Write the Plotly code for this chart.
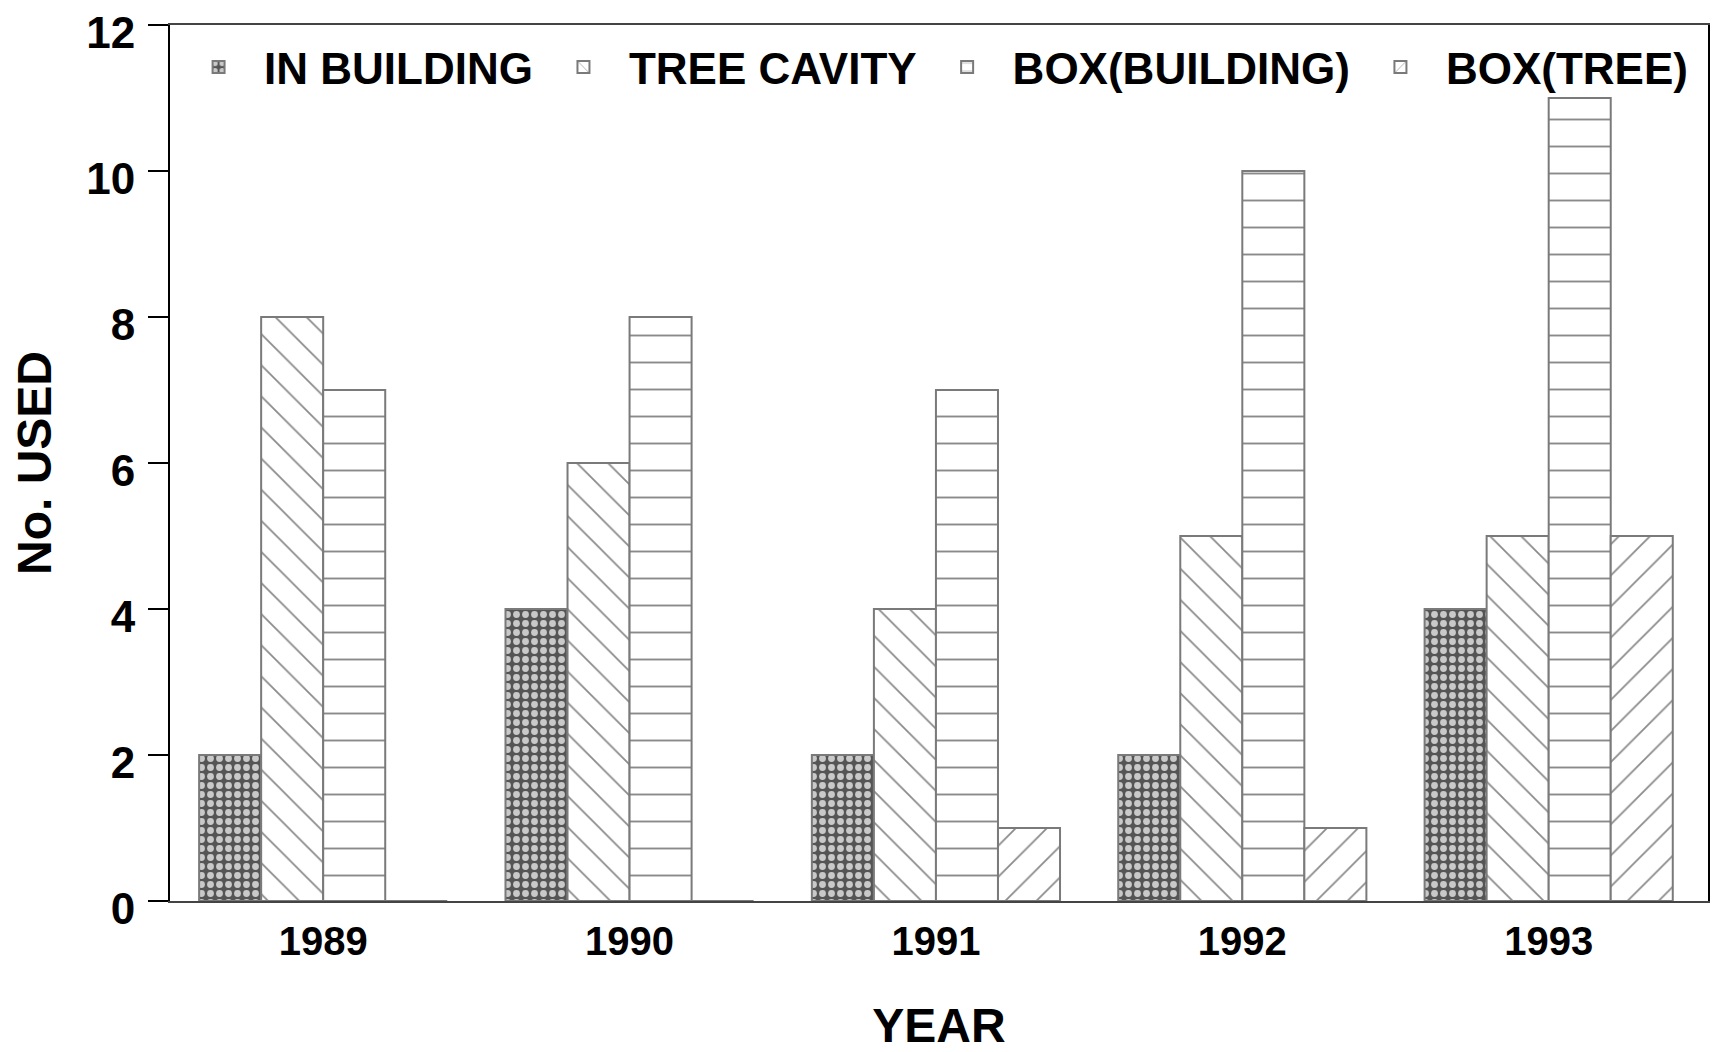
import plotly.graph_objects as go

years = ["1989", "1990", "1991", "1992", "1993"]
in_building = [2, 4, 2, 2, 4]
tree_cavity = [8, 6, 4, 5, 5]
box_building = [7, 8, 7, 10, 11]
box_tree = [0, 0, 1, 1, 5]
y_ticks = [0, 2, 4, 6, 8, 10, 12]

FONT = "Liberation Sans, Arial, Helvetica, sans-serif"

styles = [
    ("IN BUILDING", in_building, dict(shape=".", bgcolor="#555555", fgcolor="#c9c9c9", size=9, solidity=0.45)),
    ("TREE CAVITY", tree_cavity, dict(shape="\\", bgcolor="white", fgcolor="#8a8a8a", size=22, solidity=0.08)),
    ("BOX(BUILDING)", box_building, dict(shape="-", bgcolor="white", fgcolor="#8a8a8a", size=27, solidity=0.07)),
    ("BOX(TREE)", box_tree, dict(shape="/", bgcolor="white", fgcolor="#8a8a8a", size=22, solidity=0.08)),
]

fig = go.Figure()
for name, vals, pat in styles:
    fig.add_trace(go.Bar(
        x=years, y=vals, name=name,
        marker=dict(color=pat["bgcolor"], pattern=dict(fillmode="replace", **pat),
                    line=dict(color="#7a7a7a", width=2)),
    ))

# page body adds an 8px margin, so the figure is 8px smaller and margins compensate
fig.update_layout(
    width=1712, height=1044,
    paper_bgcolor="white", plot_bgcolor="white",
    margin=dict(l=162, r=12, t=17, b=151),
    barmode="group", bargap=0.19, bargroupgap=0,
    font=dict(family=FONT, color="black", weight="bold"),
    showlegend=True,
    legend=dict(orientation="h", x=0.002, xanchor="left", y=0.992, yanchor="top",
                bgcolor="rgba(0,0,0,0)", font=dict(size=44, family=FONT, color="black", weight="bold"),
                itemwidth=81, traceorder="normal"),
    xaxis=dict(
        type="category", range=[-0.5, 4.52], automargin=False,
        showline=True, linecolor="#444444", linewidth=2, mirror=True,
        ticks="", showgrid=False, zeroline=False,
        tickfont=dict(size=40, family=FONT, color="black", weight="bold"),
        ticklabelstandoff=4,
        title=dict(text="YEAR", font=dict(size=48, family=FONT, color="black", weight="bold"), standoff=58),
    ),
    yaxis=dict(
        range=[0, 12], tickvals=y_ticks, ticktext=[str(v) for v in y_ticks], automargin=False,
        showline=True, linecolor="black", linewidth=2, mirror=True,
        ticks="outside", ticklen=20, tickwidth=2, tickcolor="black",
        showgrid=False, zeroline=False,
        tickfont=dict(size=44, family=FONT, color="black", weight="bold"),
        ticklabelstandoff=4, ticklabelshift=8, ticklabeloverflow="allow",
        title=dict(text="No. USED", font=dict(size=48, family=FONT, color="black", weight="bold"), standoff=30),
    ),
)

fig.write_html("out.html")
